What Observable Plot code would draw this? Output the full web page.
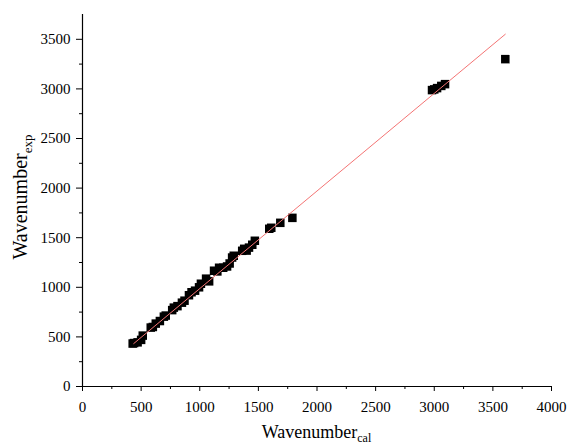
<!DOCTYPE html>
<html>
<head>
<meta charset="utf-8">
<script src="https://cdn.jsdelivr.net/npm/d3@7"></script>
<script src="https://cdn.jsdelivr.net/npm/@observablehq/plot@0.6"></script>
<style>
  body { margin: 0; background: #fff; }
  svg text { font-family: 'Liberation Serif', 'Times New Roman', serif; }
</style>
</head>
<body>
<div id="chart"></div>
<script>
// Data
const xCal = [428, 440, 470, 500, 514, 582, 600, 625, 660, 694, 710, 765, 779, 810, 848, 870, 908, 930, 960, 994, 1010, 1054, 1080, 1122, 1150, 1165, 1200, 1233, 1255, 1276, 1290, 1362, 1379, 1400, 1420, 1448, 1470, 1593, 1610, 1687, 1790, 2981, 3000, 3024, 3060, 3092, 3606];
const yExp = [433, 438, 445, 470, 513, 594, 600, 634, 660, 704, 715, 770, 795, 810, 845, 865, 920, 950, 966, 1000, 1036, 1087, 1060, 1167, 1160, 1197, 1197, 1210, 1240, 1300, 1318, 1368, 1388, 1370, 1400, 1429, 1469, 1590, 1600, 1650, 1700, 2988, 2995, 3008, 3030, 3048, 3300];
const fitX = [437, 3606];
const fitY = [433, 3551];
const xMajor = [0, 500, 1000, 1500, 2000, 2500, 3000, 3500, 4000];
const xMinor = [250, 750, 1250, 1750, 2250, 2750, 3250, 3750];
const yMajor = [0, 500, 1000, 1500, 2000, 2500, 3000, 3500];
const yMinor = [250, 750, 1250, 1750, 2250, 2750, 3250];

const points = xCal.map((x, i) => ({x, y: yExp[i]}));
const fit = fitX.map((x, i) => ({x, y: fitY[i]}));

const W = 569, H = 448;
const mL = 82, mR = 18, mT = 14, mB = 62;
const font = "'Liberation Serif', 'Times New Roman', serif";

const svg = Plot.plot({
  width: W,
  height: H,
  marginLeft: mL,
  marginRight: mR,
  marginTop: mT,
  marginBottom: mB,
  style: {fontFamily: font, fontSize: "15px", color: "#000", background: "#fff"},
  x: {domain: [0, 4000]},
  y: {domain: [0, 3750]},
  marks: [
    Plot.axisX(xMajor, {tickSize: 5, tickPadding: 10, label: null, fontSize: 15, fontFamily: font, tickFormat: d3.format("d")}),
    Plot.axisX(xMinor, {tickSize: 3, text: null, label: null}),
    Plot.axisY(yMajor, {tickSize: 6, tickPadding: 6, label: null, fontSize: 15, fontFamily: font, tickFormat: d3.format("d")}),
    Plot.axisY(yMinor, {tickSize: 3, text: null, label: null}),
    Plot.ruleY([0], {stroke: "#000", strokeWidth: 1.2}),
    Plot.ruleX([0], {stroke: "#000", strokeWidth: 1.2}),
    Plot.dot(points, {x: "x", y: "y", symbol: "square", r: 4.8, fill: "#000", stroke: "none"}),
    Plot.line(fit, {x: "x", y: "y", stroke: "#f47474", strokeWidth: 1})
  ]
});

const s = d3.select(svg);
s.selectAll("text").attr("font-family", font).style("font-family", font);
// x label
const xl = s.append("text")
  .attr("x", mL + (W - mL - mR) / 2)
  .attr("y", 438)
  .attr("text-anchor", "middle")
  .attr("font-family", font)
  .attr("font-size", 18)
  .attr("fill", "#000");
xl.append("tspan").text("Wavenumber");
xl.append("tspan").attr("font-size", 12).attr("dy", 4).text("cal");
// y label
const yl = s.append("text")
  .attr("transform", `translate(27, 197) rotate(-90)`)
  .attr("text-anchor", "middle")
  .attr("font-family", font)
  .attr("font-size", 20)
  .attr("fill", "#000");
yl.append("tspan").text("Wavenumber");
yl.append("tspan").attr("font-size", 13).attr("dy", 5).text("exp");

document.getElementById("chart").appendChild(svg);
</script>
</body>
</html>
